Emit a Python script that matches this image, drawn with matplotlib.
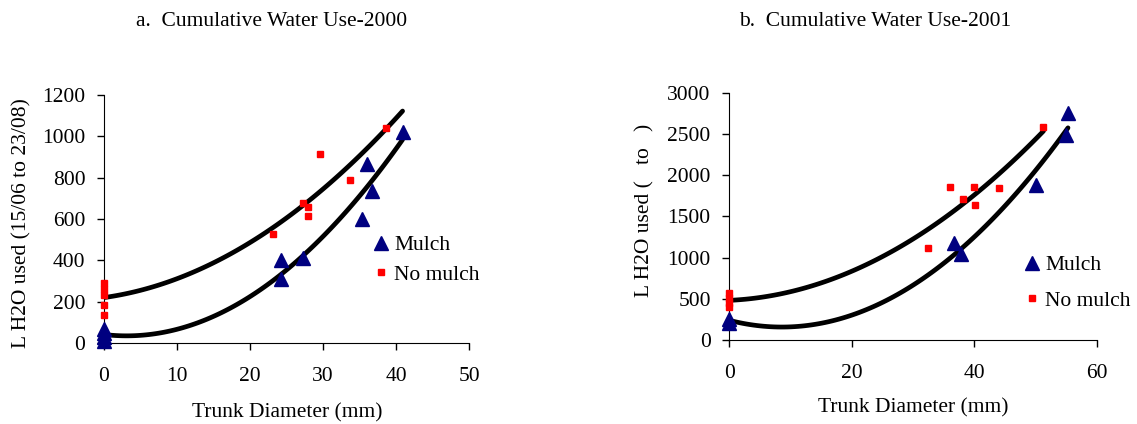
import numpy as np
import matplotlib.pyplot as plt

plt.rcParams['font.family'] = ['Liberation Serif', 'DejaVu Serif']

# 2000 data (trunk diameter mm, litres)
mulch_x_2000 = [0, 0, 0, 0, 24.3, 24.3, 27.2, 35.3, 36.0, 36.7, 40.9]
mulch_y_2000 = [10, 30, 50, 70, 400, 308, 410, 598, 866, 737, 1020]
nomulch_x_2000 = [0, 0, 0, 0, 0, 23.1, 27.2, 27.9, 27.9, 29.6, 33.7, 38.6]
nomulch_y_2000 = [135, 185, 230, 262, 290, 526, 676, 656, 616, 913, 789, 1039]

# 2001 data
mulch_x_2001 = [0, 0, 36.7, 37.9, 50.1, 55.0, 55.3]
mulch_y_2001 = [210, 260, 1173, 1043, 1880, 2487, 2757]
nomulch_x_2001 = [0, 0, 0, 0, 32.4, 36.0, 38.1, 39.9, 40.1, 44.0, 51.3]
nomulch_y_2001 = [400, 450, 510, 570, 1120, 1852, 1707, 1852, 1638, 1840, 2584]

# where each trendline stops (mulch, no mulch)
trend_end_2000 = [40.9, 40.9]
trend_end_2001 = [55.3, 51.3]

FS = 15.5


def panel(ax, mx, my, nx, ny, trend_end, ylabel, xmax, xstep, ymax, ystep,
          leg_anchor, leg_space, ylab_xy, xlab_xy):
    # polynomial (order 2) trendlines, like Excel
    for (x, y), xe in zip([(mx, my), (nx, ny)], trend_end):
        c = np.polyfit(x, y, 2)
        xs = np.linspace(0, xe, 100)
        ax.plot(xs, np.polyval(c, xs), color='black', linewidth=3.4,
                solid_capstyle='round', zorder=2)
    ax.plot(nx, ny, 's', color='#FF0000', markersize=5, linestyle='none',
            label='No mulch', clip_on=False, zorder=3)
    ax.plot(mx, my, '^', color='#000080', markersize=9.5, linestyle='none',
            label='Mulch', clip_on=False, zorder=4)

    ax.set_xlim(0, xmax)
    ax.set_ylim(0, ymax)
    ax.set_xticks(np.arange(0, xmax + 1, xstep))
    ax.set_yticks(np.arange(0, ymax + 1, ystep))
    for s in ['top', 'right']:
        ax.spines[s].set_visible(False)
    ax.tick_params(labelsize=FS, length=5, width=1)
    ax.tick_params(axis='x', pad=12)
    ax.tick_params(axis='y', pad=8.5)

    ax.set_xlabel('Trunk Diameter (mm)', fontsize=FS)
    ax.set_ylabel(ylabel, fontsize=FS)
    ax.xaxis.set_label_coords(*xlab_xy)
    ax.yaxis.set_label_coords(*ylab_xy)
    ax.xaxis.label.set_verticalalignment('center')
    ax.yaxis.label.set_verticalalignment('center')

    h, l = ax.get_legend_handles_labels()
    ax.legend(h[::-1], l[::-1], loc='center left', bbox_to_anchor=leg_anchor,
              frameon=False, fontsize=FS, handlelength=0.8, handletextpad=0.2,
              labelspacing=leg_space, borderaxespad=0)


fig = plt.figure(figsize=(11.37, 4.24), dpi=100)
ax1 = fig.add_axes([0.0915, 0.191, 0.321, 0.585])
ax2 = fig.add_axes([0.6416, 0.198, 0.323, 0.583])

panel(ax1, mulch_x_2000, mulch_y_2000, nomulch_x_2000, nomulch_y_2000,
      trend_end_2000, 'L H2O used (15/06 to 23/08)', 50, 10, 1200, 200,
      (0.712, 0.335), 0.44, (-0.225, 0.484), (0.501, -0.282))
panel(ax2, mulch_x_2001, mulch_y_2001, nomulch_x_2001, nomulch_y_2001,
      trend_end_2001, 'L H2O used (   to   )', 60, 20, 3000, 500,
      (0.778, 0.23), 0.72, (-0.23, 0.526), (0.5, -0.275))

fig.text(272 / 1137, 1 - 22 / 424, 'a.  Cumulative Water Use-2000',
         fontsize=FS, ha='center', va='center')
fig.text(875 / 1137, 1 - 22 / 424, 'b.  Cumulative Water Use-2001',
         fontsize=FS, ha='center', va='center')

fig.savefig('out.png', dpi=100)
plt.close()
